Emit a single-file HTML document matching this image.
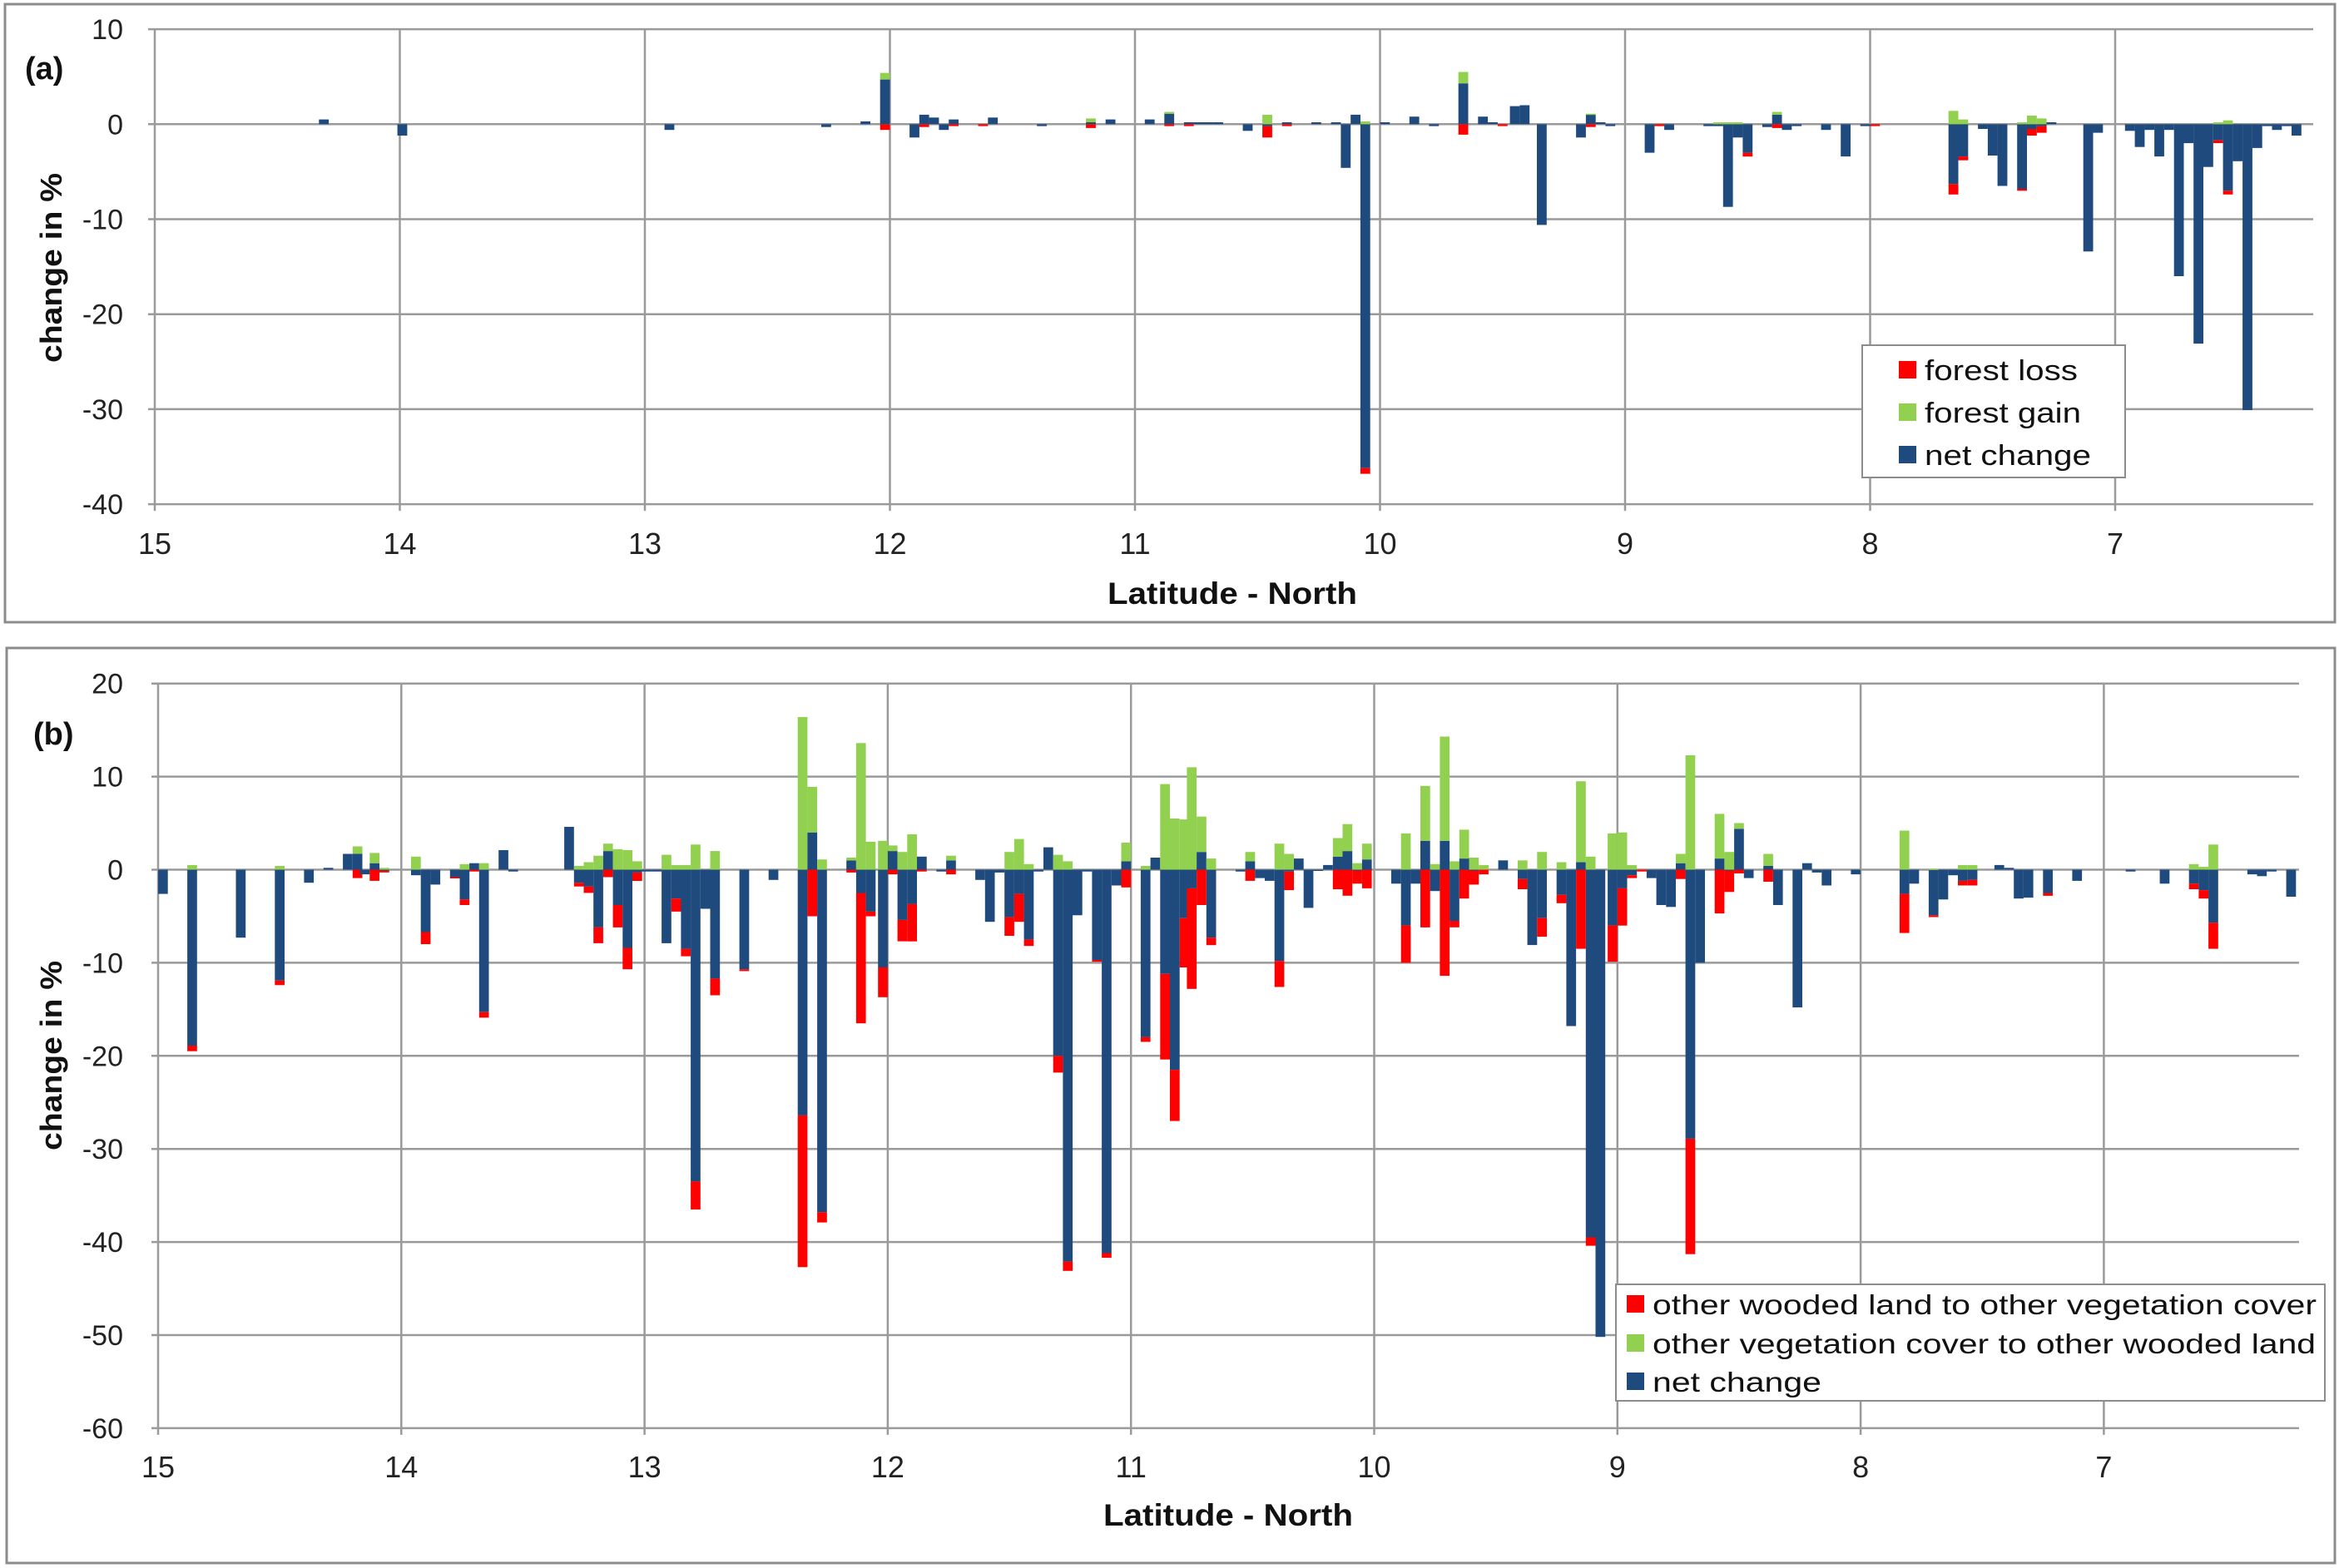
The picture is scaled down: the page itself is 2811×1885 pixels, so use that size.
<!DOCTYPE html>
<html><head><meta charset="utf-8"><style>
html,body{margin:0;padding:0;background:#fff;}
svg{display:block;font-family:"Liberation Sans",Arial,sans-serif;}
</style></head>
<body>
<svg id="chart" width="2811" height="1885" viewBox="0 0 2811 1885" xmlns="http://www.w3.org/2000/svg">
<rect x="0" y="0" width="2811" height="1885" fill="#fff"/>
<rect x="6" y="5" width="2800" height="743" fill="none" stroke="#8c8c8c" stroke-width="3"/>
<rect x="8" y="779" width="2798" height="1100" fill="none" stroke="#8c8c8c" stroke-width="3"/>
<g id="pa"></g>
<g id="pb"></g>
</svg>
<script>
// ---------- Panel (a) data ----------
const latA  = [14.31,13.99,12.90,12.26,12.10,12.02,11.90,11.86,11.82,11.78,11.74,11.62,11.58,11.38,11.18,11.10,10.94,10.86,10.78,10.74,10.70,10.66,10.54,10.46,10.38,10.26,10.18,10.14,10.10,10.06,9.98,9.86,9.78,9.66,9.58,9.54,9.50,9.45,9.41,9.34,9.18,9.14,9.10,9.06,8.90,8.86,8.82,8.66,8.62,8.58,8.54,8.50,8.42,8.38,8.34,8.30,8.18,8.10,8.02,7.98,7.66,7.62,7.54,7.50,7.46,7.38,7.34,7.30,7.26,7.11,7.07,6.94,6.90,6.86,6.82,6.78,6.74,6.70,6.66,6.62,6.58,6.54,6.50,6.46,6.42,6.38,6.34,6.30,6.26];
const netA  = [0.5,-1.2,-0.6,-0.3,0.3,4.7,-1.4,1.0,0.7,-0.6,0.5,0,0.7,-0.2,0.2,0.5,0.5,1.1,0.2,0.2,0.2,0.2,-0.7,-0.2,0.2,0.2,0.2,-4.6,1.0,-36.2,0.2,0.8,-0.2,4.3,0.8,0.2,0,1.9,2.0,-10.6,-1.4,1.0,0.2,-0.2,-3.0,0,-0.6,-0.2,-0.2,-8.7,-1.4,-3.0,-0.3,1.0,-0.6,-0.2,-0.6,-3.4,-0.2,0,-6.3,-3.4,-0.5,-3.3,-6.5,-6.8,-0.5,-0.2,0.2,-13.4,-0.9,-0.7,-2.4,-0.6,-3.4,-0.6,-16.0,-2.0,-23.1,-4.5,-1.7,-7.0,-3.9,-30.1,-2.5,-0.2,-0.6,-0.2,-1.2];
const lossA = [0,0,0,0,0,0.6,0,0.3,0,0,0.2,0.2,0,0,0.4,0,0,0.2,0.2,0,0,0,0,1.2,0.2,0,0,0,0,0.6,0,0,0,1.1,0,0,0.2,0,0,0,0,0.3,0,0,0,0.2,0,0,0,0,0,0.4,0,0.4,0,0,0,0,0,0.2,1.1,0.4,0,0,0,0.2,0.7,0.7,0,0,0,0,0,0,0,0,0,0,0,0,0.3,0.4,0,0,0,0,0,0,0];
const gainA = [0,0,0,0,0,0.7,0,0,0,0,0,0,0,0,0.4,0,0,0.2,0,0,0,0,0,1.0,0,0,0,0,0,0.3,0,0,0,1.2,0,0,0,0,0,0,0,0.1,0,0,0,0,0,0,0.2,0.2,0.2,0,0,0.3,0,0,0,0,0,0,1.4,0.5,0,0,0,0.2,0.9,0.6,0,0,0,0,0,0,0,0,0,0,0,0,0.2,0.4,0,0,0,0,0,0,0];
const yTicksA = [10,0,-10,-20,-30,-40];
const xTicks = [15,14,13,12,11,10,9,8,7];

// ---------- Panel (b) data ----------
const latB  = [14.98,14.86,14.66,14.50,14.38,14.30,14.22,14.18,14.15,14.11,14.07,13.94,13.90,13.86,13.78,13.74,13.70,13.66,13.58,13.54,13.31,13.27,13.23,13.19,13.15,13.11,13.07,13.03,12.99,12.95,12.91,12.87,12.83,12.79,12.75,12.71,12.59,12.47,12.35,12.31,12.27,12.15,12.11,12.07,12.02,11.98,11.94,11.90,11.86,11.78,11.74,11.62,11.58,11.54,11.50,11.46,11.42,11.38,11.34,11.30,11.26,11.22,11.18,11.14,11.10,11.06,11.02,10.94,10.90,10.86,10.82,10.78,10.75,10.71,10.67,10.55,10.51,10.47,10.43,10.39,10.35,10.31,10.27,10.23,10.19,10.15,10.11,10.07,10.03,9.91,9.87,9.83,9.79,9.75,9.71,9.67,9.63,9.59,9.55,9.47,9.39,9.35,9.31,9.23,9.19,9.15,9.11,9.07,9.02,8.98,8.94,8.90,8.86,8.82,8.78,8.74,8.70,8.66,8.58,8.54,8.50,8.46,8.38,8.34,8.26,8.22,8.18,8.14,8.02,7.82,7.78,7.70,7.66,7.62,7.58,7.54,7.43,7.39,7.35,7.31,7.23,7.11,6.89,6.75,6.63,6.59,6.55,6.39,6.35,6.31,6.23];
const netB  = [-2.6,-18.9,-7.3,-11.9,-1.4,0.2,1.7,1.7,-0.5,0.7,-0.1,-0.6,-6.7,-1.6,-0.8,-3.2,0.7,-15.3,2.1,-0.2,4.6,-1.4,-1.8,-6.2,2.0,-3.8,-8.4,-0.3,-0.2,-0.2,-7.9,-3.1,-8.5,-33.5,-4.2,-11.7,-10.7,-1.1,-26.4,4.0,-36.8,1.0,-2.5,-4.5,-10.5,2.0,-5.4,-3.7,1.4,-0.2,1.0,-1.1,-5.6,-0.3,-5.1,-2.6,-7.5,-0.2,2.4,-20.0,-42.1,-4.9,-0.2,-9.7,-41.2,-1.7,0.9,-18.0,1.3,-11.2,-21.5,-5.2,-2.0,1.9,-7.3,-0.2,0.9,-0.9,-1.2,-9.8,-0.2,1.2,-4.1,-0.1,0.5,1.4,2.0,-0.1,1.1,-1.5,-6.0,-1.5,3.1,-2.3,3.1,-5.5,1.2,-0.1,0,1.0,-1.0,-8.1,-5.2,-2.7,-16.8,0.8,-39.5,-50.2,-6.0,-2.0,-0.6,0,-0.9,-3.8,-4.0,0.7,-28.9,-10.0,1.2,-0.1,4.4,-0.9,0.4,-3.8,-14.8,0.7,-0.3,-1.7,-0.5,-2.6,-1.5,-4.9,-3.2,-0.6,-1.2,-1.1,0.5,0.2,-3.1,-3.0,-2.5,-1.2,-0.2,-1.5,-1.5,-2.2,-5.7,-0.5,-0.7,-0.2,-2.9];
const lossB = [0,0.6,0,0.5,0,0,0,0.9,0,1.2,0.2,0,1.3,0,0.1,0.6,0.2,0.6,0,0,0,0.4,0.7,1.7,0.8,2.4,2.3,0.9,0,0,0,1.4,0.8,3.0,0,1.8,0.2,0,16.3,5.0,1.1,0.3,14.0,0.5,3.2,0.5,2.3,4.0,0.2,0,0.5,0,0,0,2.0,3.0,0.7,0,0,1.8,1.0,0,0,0.2,0.5,0,1.9,0.5,0,9.2,5.5,5.3,10.8,3.8,0.8,0,1.2,0,0,2.8,2.0,0,0,0,0,2.1,2.8,1.4,2.0,0,4.0,0,6.2,0,11.4,0.7,3.1,1.5,0.5,0,1.1,0,2.0,0.9,0,8.5,0.9,0,3.9,4.0,0.3,0.2,0,0,0,1.0,12.4,0,4.7,2.3,0.4,0,1.3,0,0,0,0,0,0,4.2,0,0.2,0,0,0.5,0.6,0,0,0,0,0.3,0,0,0,0.6,0.9,2.8,0,0,0,0];
const gainB = [0,0.5,0,0.4,0,0,0,0.8,0,1.1,0.2,1.4,0,0,0,0.6,0,0.7,0,0,0,0.4,0.8,1.5,0.8,2.2,2.1,0.9,0,0,1.6,0.5,0.5,2.7,0,2.0,0,0,16.4,4.9,1.1,0.3,13.6,3.0,3.1,0.6,1.9,3.8,0,0,0.5,0,0,0,1.9,3.3,0.6,0,0,1.6,0.9,0,0,0,0,0,2.0,0.4,0,9.2,5.5,5.4,11.0,3.8,1.2,0,1.0,0,0,2.8,1.7,0,0,0,0,2.0,2.9,0.7,1.7,0,3.9,0,5.9,0.6,11.2,0.9,3.1,1.3,0.5,0,1.0,0,1.9,0.8,0,8.7,1.4,0,3.9,4.0,0.5,0,0,0,0,1.0,12.3,0,4.8,1.9,0.6,0,1.3,0,0,0,0,0,0,4.2,0,0.1,0,0,0.5,0.5,0,0,0,0,0,0,0,0,0.6,0.3,2.7,0,0,0,0];
const yTicksB = [20,10,0,-10,-20,-30,-40,-50,-60];

const NS = 'http://www.w3.org/2000/svg';
const C_NET = '#1f4a7d', C_LOSS = '#ff0000', C_GAIN = '#92d050';
function mk(parent, tag, attrs, text){
  const e = document.createElementNS(NS, tag);
  for (const k in attrs) e.setAttribute(k, attrs[k]);
  if (text !== undefined) e.textContent = text;
  parent.appendChild(e);
  return e;
}

function drawPanel(g, cfg, lats, net, loss, gain, yTicks){
  const xS = lat => cfg.x15 + (15 - lat) * cfg.pxDeg;
  const yS = v => cfg.y0 - v * cfg.pxUnit;
  const top = yS(yTicks[0]), bot = yS(yTicks[yTicks.length-1]);
  // horizontal gridlines + y tick labels
  yTicks.forEach(t => {
    const gl = mk(g, 'line', {x1: cfg.x15 - 8, x2: cfg.xr, y1: yS(t), y2: yS(t), stroke: '#9a9a9a', 'stroke-width': 2.5});
    
    
    const tl = mk(g, 'text', {x: 148, y: yS(t) + 12, 'text-anchor': 'end', 'font-size': 34, fill: '#222'}, String(t));
    
    
  });
  // vertical gridlines + x tick labels
  xTicks.forEach(t => {
    const vl = mk(g, 'line', {x1: xS(t), x2: xS(t), y1: top, y2: bot + 8, stroke: '#9a9a9a', 'stroke-width': 2.5});
    
    
    const xl = mk(g, 'text', {x: xS(t), y: cfg.xTickY, 'text-anchor': 'middle', 'font-size': 36, fill: '#222'}, String(t));
    
    
  });
  const bw = cfg.pxDeg * 0.04;
  lats.forEach((lat, i) => {
    const x = xS(lat) - bw / 2;
    let pos = 0, neg = 0;
    const segs = [[net[i], C_NET, 'net'], [-loss[i], C_LOSS, 'loss'], [gain[i], C_GAIN, 'gain']];
    segs.forEach(s => {
      const v = s[0];
      if (!v) return;
      let a, b;
      if (v > 0) { a = pos; b = pos + v; pos = b; } else { a = neg; b = neg + v; neg = b; }
      const y1 = yS(Math.max(a, b)), y2 = yS(Math.min(a, b));
      const r = mk(g, 'rect', {x: x.toFixed(1), y: y1.toFixed(1), width: bw.toFixed(1), height: Math.max(1.5, y2 - y1).toFixed(1), fill: s[1]});
      
      
    });
  });
}

const pa = document.getElementById('pa');
const pb = document.getElementById('pb');
drawPanel(pa, {x15: 186, pxDeg: 294.5, xr: 2780, y0: 149.3, pxUnit: 11.42, xTickY: 666}, latA, netA, lossA, gainA, yTicksA);
drawPanel(pb, {x15: 190, pxDeg: 292.3, xr: 2763, y0: 1045.5, pxUnit: 11.19, xTickY: 1776}, latB, netB, lossB, gainB, yTicksB);

// Panel labels and axis titles
function txt(parent, name, attrs, s){
  const t = mk(parent, 'text', attrs, s);
  
  
  return t;
}
txt(pa, 'panel-a-label', {x: 30, y: 95, 'font-size': 38, 'font-weight': 'bold', fill: '#111'}, '(a)');
txt(pb, 'panel-b-label', {x: 40, y: 895, 'font-size': 38, 'font-weight': 'bold', fill: '#111'}, '(b)');
txt(pa, 'y-axis-title-a', {x: 0, y: 0, transform: 'translate(74,322) rotate(-90)', 'text-anchor': 'middle', 'font-size': 36, 'font-weight': 'bold', fill: '#111', textLength: 228, lengthAdjust: 'spacingAndGlyphs'}, 'change in %');
txt(pb, 'y-axis-title-b', {x: 0, y: 0, transform: 'translate(74,1269) rotate(-90)', 'text-anchor': 'middle', 'font-size': 36, 'font-weight': 'bold', fill: '#111', textLength: 228, lengthAdjust: 'spacingAndGlyphs'}, 'change in %');
txt(pa, 'x-axis-title-a', {x: 1481, y: 726, 'text-anchor': 'middle', 'font-size': 37, 'font-weight': 'bold', fill: '#111', textLength: 300, lengthAdjust: 'spacingAndGlyphs'}, 'Latitude - North');
txt(pb, 'x-axis-title-b', {x: 1476, y: 1834, 'text-anchor': 'middle', 'font-size': 37, 'font-weight': 'bold', fill: '#111', textLength: 300, lengthAdjust: 'spacingAndGlyphs'}, 'Latitude - North');

// Legends
function legend(parent, name, box, items, fs){
  const lg = mk(parent, 'g', {});
  
  
  const r = mk(lg, 'rect', {x: box[0], y: box[1], width: box[2], height: box[3], fill: '#fff', stroke: '#8c8c8c', 'stroke-width': 2});
  
  
  items.forEach(it => {
    const sw = mk(lg, 'rect', {x: it.sx, y: it.y - 11, width: 21, height: 21, fill: it.c});
    
    
    const t = mk(lg, 'text', {x: it.sx + 31, y: it.y + 12, 'font-size': fs, fill: '#111'}, it.label);
    if (it.len) { t.setAttribute('textLength', it.len); t.setAttribute('lengthAdjust', 'spacingAndGlyphs'); }
    
    
  });
}
legend(pa, 'legend-a', [2238, 415, 316, 159], [
  {sx: 2282, y: 445, c: C_LOSS, label: 'forest loss', len: 184},
  {sx: 2282, y: 496, c: C_GAIN, label: 'forest gain', len: 188},
  {sx: 2282, y: 547, c: C_NET, label: 'net change', len: 200}
], 34);
legend(pb, 'legend-b', [1942, 1544, 852, 140], [
  {sx: 1955, y: 1568, c: C_LOSS, label: 'other wooded land to other vegetation cover', len: 798},
  {sx: 1955, y: 1615, c: C_GAIN, label: 'other vegetation cover to other wooded land', len: 797},
  {sx: 1955, y: 1661, c: C_NET, label: 'net change', len: 203}
], 33);
</script>
</body></html>
